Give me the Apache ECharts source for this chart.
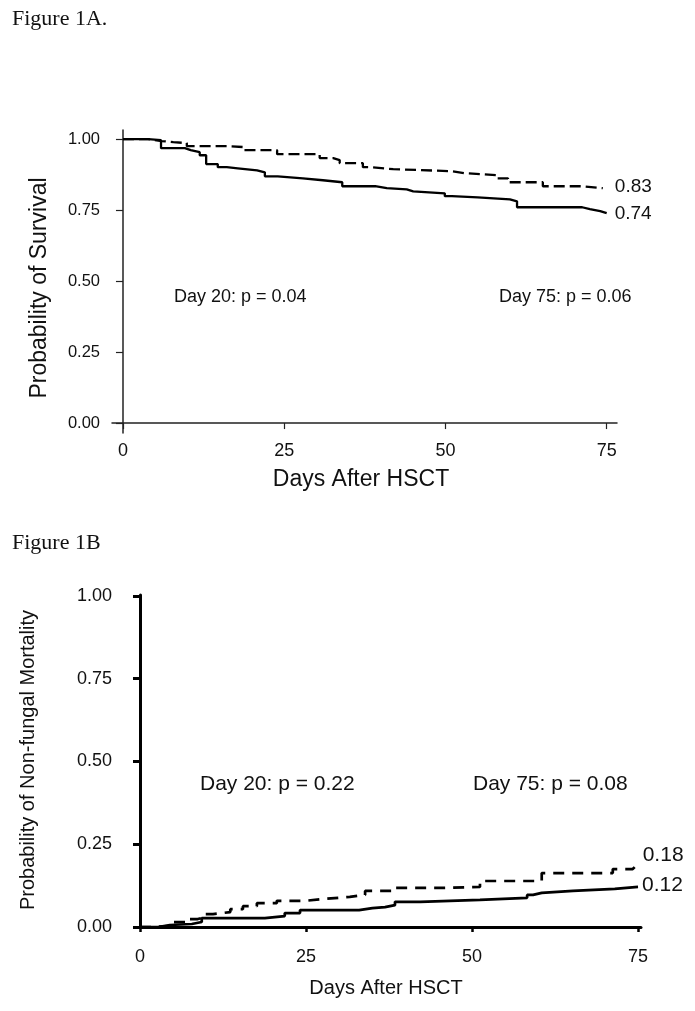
<!DOCTYPE html>
<html>
<head>
<meta charset="utf-8">
<script src="https://cdn.jsdelivr.net/npm/echarts@6/dist/echarts.min.js"></script>
<style>
html,body{margin:0;padding:0;background:#fff;}
#c{width:695px;height:1011px;}
</style>
</head>
<body>
<div id="c"></div>
<script>
// ---------- Data ----------
var xTicks = [0, 25, 50, 75];
var yTicks = [0, 0.25, 0.5, 0.75, 1];

// Figure 1A: Kaplan-Meier survival (day, probability)
var survSolid = [[0,1],[3.9,0.996],[5.9,0.968],[9.6,0.961],[10.5,0.954],[11.9,0.943],[12.9,0.912],[14.7,0.901],[16.1,0.897],[17.8,0.89],[20.8,0.883],[22,0.869],[24,0.862],[27.9,0.855],[31,0.848],[34,0.834],[39.1,0.827],[40.9,0.823],[44,0.816],[45,0.809],[49.9,0.799],[51,0.795],[55,0.788],[60,0.781],[61.1,0.76],[71.2,0.753],[72.4,0.746],[74,0.739],[75,0.739]];
var survDashed = [[0,1],[3.9,0.993],[6,0.989],[7.8,0.986],[9.9,0.975],[16.1,0.972],[18.6,0.961],[23.9,0.947],[30.5,0.933],[32.6,0.926],[33.6,0.915],[37.2,0.901],[38.3,0.894],[41.9,0.887],[51,0.88],[53,0.873],[58,0.862],[59.7,0.848],[65.1,0.834],[71.2,0.827],[74.4,0.827]];
var survEndLabels = ['0.74', '0.83'];
var survNotes = ['Day 20: p = 0.04', 'Day 75: p = 0.06'];

// Figure 1B: cumulative non-fungal mortality (day, probability)
var mortSolid = [[0,0],[2.7,0.006],[4.5,0.009],[7.8,0.015],[9.3,0.027],[18.8,0.033],[21.8,0.042],[24.1,0.051],[33,0.057],[35,0.06],[36.9,0.066],[38.4,0.076],[42.2,0.082],[51.2,0.088],[58.3,0.097],[59.2,0.103],[60.5,0.109],[65.2,0.115],[71.5,0.121],[75,0.121]];
var mortDashed = [[0,0],[2,0.003],[4.5,0.015],[6.8,0.024],[8.7,0.03],[9.8,0.039],[11,0.045],[13.6,0.054],[15.5,0.063],[17.6,0.072],[20.6,0.079],[24.8,0.085],[27.9,0.091],[31.6,0.097],[33.9,0.109],[38.4,0.118],[45.2,0.121],[51.2,0.139],[60.5,0.163],[71.2,0.175],[74.2,0.181],[74.5,0.181]];
var mortEndLabels = ['0.12', '0.18'];
var mortNotes = ['Day 20: p = 0.22', 'Day 75: p = 0.08'];

var titles = ['Figure 1A.', 'Figure 1B'];
var axisTitles = ['Probability of Survival', 'Days After HSCT', 'Probability of Non-fungal Mortality', 'Days After HSCT'];

// ---------- Chart ----------
var SANS = '"Liberation Sans", Arial, Helvetica, sans-serif';
var SERIF = '"Liberation Serif", "Times New Roman", serif';
var fmt2 = function (v) { return v.toFixed(2); };

var chart = echarts.init(document.getElementById('c'), null, {renderer: 'canvas'});

var option = {
  animation: false,
  backgroundColor: '#fff',
  grid: [
    {left: 112, top: 130, width: 505, height: 303},
    {left: 139, top: 595, width: 502, height: 332}
  ],
  xAxis: [
    { // 1A
      type: 'value', gridIndex: 0, min: -1.7, max: 76.6,
      axisLine: {show: true, lineStyle: {color: '#222', width: 1.5}},
      axisTick: {show: true, length: 6, customValues: xTicks, lineStyle: {color: '#222', width: 1.2}},
      axisLabel: {show: true, customValues: xTicks, margin: 9, fontSize: 18, fontFamily: SANS, color: '#111'},
      splitLine: {show: false}
    },
    { // 1B line only
      type: 'value', gridIndex: 1, min: -0.15, max: 75.45,
      axisLine: {show: true, lineStyle: {color: '#000', width: 3}},
      axisTick: {show: false}, axisLabel: {show: false}, splitLine: {show: false}
    },
    { // 1B ticks + labels detached
      type: 'value', gridIndex: 1, min: -0.15, max: 75.45, offset: 13, position: 'bottom',
      axisLine: {show: false},
      axisTick: {show: true, length: 5, customValues: xTicks, lineStyle: {color: '#000', width: 2.5}},
      axisLabel: {show: true, customValues: xTicks, margin: 8, fontSize: 18, fontFamily: SANS, color: '#111'},
      splitLine: {show: false}
    }
  ],
  yAxis: [
    { // 1A
      type: 'value', gridIndex: 0, min: -0.035, max: 1.032,
      axisLine: {show: true, lineStyle: {color: '#222', width: 1.5}},
      axisTick: {show: true, length: 7, customValues: yTicks, lineStyle: {color: '#222', width: 1.2}},
      axisLabel: {show: true, customValues: yTicks, formatter: fmt2, margin: 12, fontSize: 16.5, fontFamily: SANS, color: '#111'},
      splitLine: {show: false}
    },
    { // 1B line only
      type: 'value', gridIndex: 1, min: 0, max: 1.003,
      axisLine: {show: true, lineStyle: {color: '#000', width: 3}},
      axisTick: {show: false}, axisLabel: {show: false}, splitLine: {show: false}
    },
    { // 1B ticks + labels detached
      type: 'value', gridIndex: 1, min: 0, max: 1.003, offset: 14, position: 'left',
      axisLine: {show: false},
      axisTick: {show: true, length: 7, customValues: yTicks, lineStyle: {color: '#000', width: 3}},
      axisLabel: {show: true, customValues: yTicks, formatter: fmt2, margin: 13, fontSize: 18, fontFamily: SANS, color: '#111'},
      splitLine: {show: false}
    }
  ],
  series: [
    {
      type: 'line', xAxisIndex: 0, yAxisIndex: 0, step: 'end', showSymbol: false, symbol: 'none',
      data: survSolid, lineStyle: {color: '#000', width: 2.3},
      endLabel: {show: true, formatter: survEndLabels[0], distance: 8, offset: [0, 1], fontSize: 19, fontFamily: SANS, color: '#111'}
    },
    {
      type: 'line', xAxisIndex: 0, yAxisIndex: 0, step: 'end', showSymbol: false, symbol: 'none',
      data: survDashed, lineStyle: {color: '#000', width: 2.3, type: [11, 5]},
      endLabel: {show: true, formatter: survEndLabels[1], distance: 12, offset: [0, -1], fontSize: 19, fontFamily: SANS, color: '#111'}
    },
    {
      type: 'line', xAxisIndex: 1, yAxisIndex: 1, step: 'end', showSymbol: false, symbol: 'none',
      data: mortSolid, lineStyle: {color: '#000', width: 2.7},
      endLabel: {show: true, formatter: mortEndLabels[0], distance: 4, offset: [0, -2], fontSize: 21, fontFamily: SANS, color: '#111'}
    },
    {
      type: 'line', xAxisIndex: 1, yAxisIndex: 1, step: 'end', showSymbol: false, symbol: 'none',
      data: mortDashed, lineStyle: {color: '#000', width: 2.7, type: [11, 8]},
      endLabel: {show: true, formatter: mortEndLabels[1], distance: 8, offset: [0, -12], fontSize: 21, fontFamily: SANS, color: '#111'}
    }
  ],
  graphic: [
    {type: 'text', x: 12, y: 19, style: {text: titles[0], font: '22px ' + SERIF, fill: '#111', textVerticalAlign: 'middle'}},
    {type: 'text', x: 12, y: 543, style: {text: titles[1], font: '22px ' + SERIF, fill: '#111', textVerticalAlign: 'middle'}},
    {type: 'text', x: 40, y: 288, rotation: Math.PI / 2, style: {text: axisTitles[0], font: '23px ' + SANS, fill: '#111', textAlign: 'center', textVerticalAlign: 'middle'}},
    {type: 'text', x: 361, y: 480, style: {text: axisTitles[1], font: '23px ' + SANS, fill: '#111', textAlign: 'center', textVerticalAlign: 'middle'}},
    {type: 'text', x: 174, y: 297, style: {text: survNotes[0], font: '18px ' + SANS, fill: '#111', textVerticalAlign: 'middle'}},
    {type: 'text', x: 499, y: 297, style: {text: survNotes[1], font: '18px ' + SANS, fill: '#111', textVerticalAlign: 'middle'}},
    {type: 'text', x: 28, y: 760, rotation: Math.PI / 2, style: {text: axisTitles[2], font: '20px ' + SANS, fill: '#111', textAlign: 'center', textVerticalAlign: 'middle'}},
    {type: 'text', x: 386, y: 988, style: {text: axisTitles[3], font: '20px ' + SANS, fill: '#111', textAlign: 'center', textVerticalAlign: 'middle'}},
    {type: 'text', x: 200, y: 784, style: {text: mortNotes[0], font: '21px ' + SANS, fill: '#111', textVerticalAlign: 'middle'}},
    {type: 'text', x: 473, y: 784, style: {text: mortNotes[1], font: '21px ' + SANS, fill: '#111', textVerticalAlign: 'middle'}}
  ]
};
chart.setOption(option);
</script>
</body>
</html>
